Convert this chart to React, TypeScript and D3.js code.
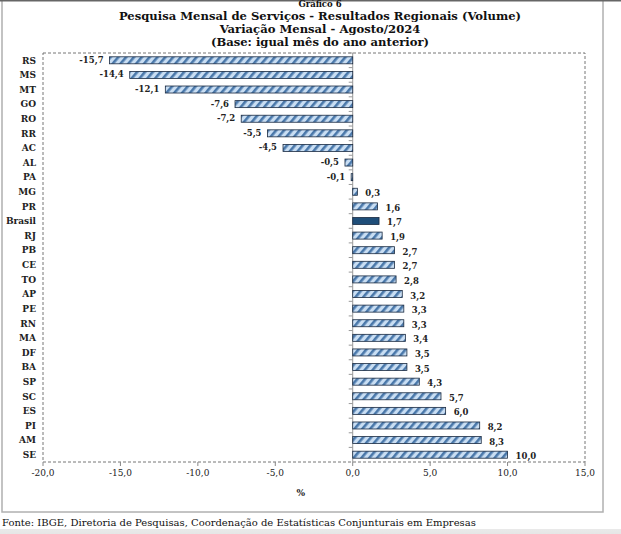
import React from "react";
import * as d3 from "d3";

const categories = ["RS","MS","MT","GO","RO","RR","AC","AL","PA","MG","PR","Brasil","RJ","PB","CE","TO","AP","PE","RN","MA","DF","BA","SP","SC","ES","PI","AM","SE"];
const values = [-15.7,-14.4,-12.1,-7.6,-7.2,-5.5,-4.5,-0.5,-0.1,0.3,1.6,1.7,1.9,2.7,2.7,2.8,3.2,3.3,3.3,3.4,3.5,3.5,4.3,5.7,6.0,8.2,8.3,10.0];
const xTicks = [-20,-15,-10,-5,0,5,10,15];
const titleLines = ["Pesquisa  Mensal de Serviços - Resultados Regionais (Volume)","Variação Mensal - Agosto/2024","(Base: igual mês do ano anterior)"];
const supTitle = "Gráfico 6";
const footer = "Fonte: IBGE, Diretoria de Pesquisas, Coordenação de Estatísticas Conjunturais em Empresas";

const fmt = (v: number) => v.toFixed(1).replace(".", ",");

export default function App() {
  const W = 621, H = 534;
  const left = 43, right = 585, top = 53, bottom = 462;
  const x = d3.scaleLinear().domain([-20, 15]).range([left, right]);
  const y = d3.scaleBand<string>().domain(categories).range([top, bottom]).paddingInner(0.52).paddingOuter(0.26);
  const font = "'DejaVu Serif', serif";
  const bw = y.bandwidth();
  const step = y.step();
  return (
    <svg width={W} height={H} style={{ position: "absolute", left: 0, top: 0, background: "#fff" }}>
      <defs>
        <pattern id="hatch" patternUnits="userSpaceOnUse" width="6" height="6" patternTransform="rotate(40)">
          <rect width="6" height="6" fill="#c9def3" />
          <rect x="0" y="0" width="2.6" height="6" fill="#4a78aa" />
        </pattern>
        <linearGradient id="shade" x1="0" x2="0" y1="0" y2="1">
          <stop offset="0" stopColor="#f4f4f4" />
          <stop offset="1" stopColor="#e6e6e6" />
        </linearGradient>
      </defs>
      <rect x={0} y={513} width={W} height={21} fill="url(#shade)" />
      <rect x={0} y={513} width={W} height={16} fill="#fff" />
      <rect x={2} y={-10} width={601} height={522} fill="#fff" stroke="#b0b0b0" strokeWidth={1.5} />
      <rect x={0} y={0} width={W} height={1.5} fill="#666" />
      <text x={320} y={7} textAnchor="middle" fontFamily={font} fontWeight="bold" fontSize={8.5} fill="#111">{supTitle}</text>
      {titleLines.map((t, i) => (
        <text key={i} x={320} y={20 + i * 13} textAnchor="middle" fontFamily={font} fontWeight="bold" fontSize={11.6} fill="#111">{t}</text>
      ))}
      <rect x={left} y={top} width={right - left} height={bottom - top} fill="none" stroke="#777" strokeWidth={1} strokeDasharray="3,2" />
      {xTicks.map((t) => (
        <g key={t}>
          <line x1={x(t)} x2={x(t)} y1={bottom} y2={bottom + 4} stroke="#888" />
          <text x={x(t)} y={bottom + 14} textAnchor="middle" fontFamily={font} fontSize={9} fill="#222">{fmt(t)}</text>
        </g>
      ))}
      <text x={x(0) - 52} y={496} textAnchor="middle" fontFamily={font} fontWeight="bold" fontSize={9} fill="#222">%</text>
      <line x1={x(0)} x2={x(0)} y1={top} y2={bottom} stroke="#999" />
      {categories.map((c, i) => (
        <line key={"tk" + c} x1={x(0) - 4} x2={x(0)} y1={top + i * step} y2={top + i * step} stroke="#999" />
      ))}
      {categories.map((c, i) => {
        const v = values[i];
        const yy = y(c)!;
        const x0 = x(Math.min(0, v)), x1 = x(Math.max(0, v));
        const isBr = c === "Brasil";
        return (
          <g key={c}>
            <text x={36} y={yy + bw / 2 + 3.3} textAnchor="end" fontFamily={font} fontWeight="bold" fontSize={9} fill="#222">{c}</text>
            <rect x={x0} y={yy} width={Math.max(x1 - x0, 1)} height={bw} fill={isBr ? "#1f4e79" : "url(#hatch)"} stroke="#1a2a40" strokeWidth={0.8} />
            <text x={v < 0 ? x0 - 6 : x1 + 8} y={yy + bw / 2 + (v < 0 ? 2.5 : 4.5)} textAnchor={v < 0 ? "end" : "start"} fontFamily={font} fontWeight="bold" fontSize={8.5} fill="#222">{fmt(v)}</text>
          </g>
        );
      })}
      <text x={2} y={526} fontFamily={font} fontSize={10} fill="#111">{footer}</text>
    </svg>
  );
}
